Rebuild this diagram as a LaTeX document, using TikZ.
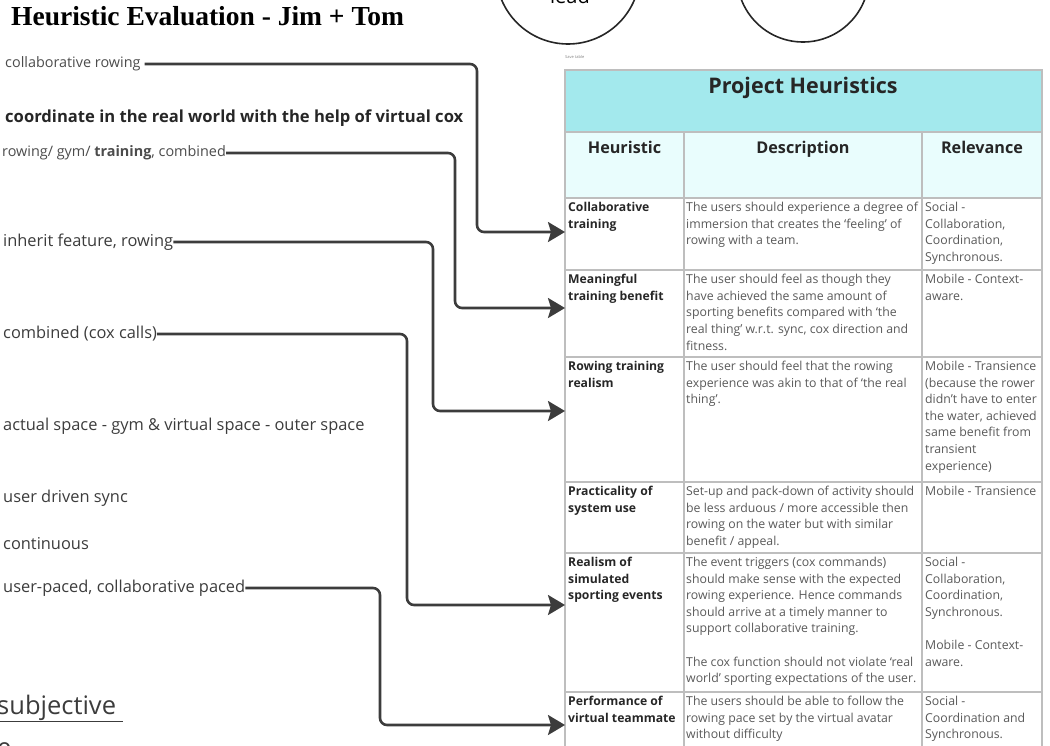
\documentclass[tikz,border=0pt]{standalone}
\usepackage{fontspec}
\setmainfont{Open Sans}
\newfontfamily\titlefont{Liberation Serif}
\usetikzlibrary{arrows.meta}
\definecolor{bandcyan}{HTML}{A3E9ED}
\definecolor{headcyan}{HTML}{E9FDFD}
\definecolor{gridgray}{HTML}{BEBEBE}
\definecolor{inkgray}{HTML}{3C3C3C}
\tikzset{
  link/.style={draw=inkgray, line width=2.6pt, rounded corners=7pt, -{Stealth[length=17pt,width=20pt,inset=3pt]}},
  annot/.style={anchor=west, inner sep=0pt, text=inkgray, font=\fontsize{16.4}{19}\selectfont},
  smallannot/.style={annot, text=black!70, font=\fontsize{14.4}{17}\selectfont},
  desccell/.style={anchor=north west, inner sep=0pt, align=left, text=black!65, font=\fontsize{12.3}{16.6}\selectfont},
  heucell/.style={desccell, text=black!85, font=\bfseries\fontsize{12.2}{16.6}\selectfont},
  headcell/.style={anchor=base, inner sep=0pt, text=black!85, font=\bfseries\fontsize{16.2}{19}\selectfont},
  tablegrid/.style={draw=gridgray, line width=1.5pt},
}
\begin{document}
\begin{tikzpicture}[x=1pt,y=-1pt]
\useasboundingbox (0,0) rectangle (1050,745);
\clip (0,0) rectangle (1050,745);
% title and circles
\node[anchor=west, inner sep=0pt, font=\titlefont\bfseries\fontsize{27.5}{31}\selectfont] (title) at (11,16) {Heuristic Evaluation - Jim + Tom};
\draw[line width=1.6pt, black!85] (568,-28) circle (72pt);
\draw[line width=1.6pt, black!85] (803,-24) circle (66pt);
\node[anchor=base, inner sep=0pt, font=\fontsize{20}{24}\selectfont] (lead) at (570,3) {lead};
\node[anchor=west, inner sep=0pt, text=black!50, font=\fontsize{4}{5}\selectfont] (save) at (565,57) {Save table};
% table fills
\fill[bandcyan] (565,70) rectangle (1042,132);
\fill[headcyan] (565,132) rectangle (1042,198);
% table grid
\draw[tablegrid] (565,760) -- (565,70) -- (1042,70) -- (1042,760);
\foreach \y in {132,198,270,357,482,553,692}
  \draw[tablegrid] (565,\y) -- (1042,\y);
\foreach \x in {684,922}
  \draw[tablegrid] (\x,132) -- (\x,760);
% table texts
\node[headcell, font=\bfseries\fontsize{21.5}{25}\selectfont] (band) at (803,93) {Project Heuristics};
\node[headcell] (hheu) at (624.5,153) {Heuristic};
\node[headcell] (hdesc) at (803,153) {Description};
\node[headcell] (hrel) at (982,153) {Relevance};
\node[heucell] (heu1) at (568,202) {Collaborative\\training};
\node[desccell] (desc1) at (686,202) {The users should experience a degree of\\immersion that creates the `feeling' of\\rowing with a team.};
\node[desccell] (rel1) at (925,202) {Social -\\Collaboration,\\Coordination,\\Synchronous.};
\node[heucell] (heu2) at (568,274) {Meaningful\\training benefit};
\node[desccell] (desc2) at (686,274) {The user should feel as though they\\have achieved the same amount of\\sporting benefits compared with `the\\real thing' w.r.t. sync, cox direction and\\fitness.};
\node[desccell] (rel2) at (925,274) {Mobile - Context-\\aware.};
\node[heucell] (heu3) at (568,361) {Rowing training\\realism};
\node[desccell] (desc3) at (686,361) {The user should feel that the rowing\\experience was akin to that of `the real\\thing'.};
\node[desccell] (rel3) at (925,361) {Mobile - Transience\\(because the rower\\didn't have to enter\\the water, achieved\\same benefit from\\transient\\experience)};
\node[heucell] (heu4) at (568,486) {Practicality of\\system use};
\node[desccell] (desc4) at (686,486) {Set-up and pack-down of activity should\\be less arduous / more accessible then\\rowing on the water but with similar\\benefit / appeal.};
\node[desccell] (rel4) at (925,486) {Mobile - Transience};
\node[heucell] (heu5) at (568,557) {Realism of\\simulated\\sporting events};
\node[desccell] (desc5) at (686,557) {The event triggers (cox commands)\\should make sense with the expected\\rowing experience. Hence commands\\should arrive at a timely manner to\\support collaborative training.\\[16.6pt]The cox function should not violate `real\\world' sporting expectations of the user.};
\node[desccell] (rel5) at (925,557) {Social -\\Collaboration,\\Coordination,\\Synchronous.\\[16.6pt]Mobile - Context-\\aware.};
\node[heucell] (heu6) at (568,696) {Performance of\\virtual teammate};
\node[desccell] (desc6) at (686,696) {The users should be able to follow the\\rowing pace set by the virtual avatar\\without difficulty};
\node[desccell] (rel6) at (925,696) {Social -\\Coordination and\\Synchronous.};
% notes on the left
\node[smallannot] (collab) at (5,64) {collaborative rowing};
\node[annot, font=\bfseries\fontsize{16.6}{19}\selectfont, text=black!85] (coord) at (5,118) {coordinate in the real world with the help of virtual cox};
\node[smallannot] (rowgym) at (2,153) {rowing/ gym/ \textbf{training}, combined};
\node[annot] (inherit) at (3,242) {inherit feature, rowing};
\node[annot] (coxcalls) at (3,334) {combined (cox calls)};
\node[annot] (space) at (3,426) {actual space - gym \& virtual space - outer space};
\node[annot] (sync) at (3,498) {user driven sync};
\node[annot] (cont) at (3,544) {continuous};
\node[annot] (paced) at (3,588) {user-paced, collaborative paced};
\node[anchor=base west, inner sep=0pt, text=inkgray, font=\fontsize{25.5}{30}\selectfont] (subj) at (-3,714) {\underline{subjective\ }};
\node[anchor=base west, inner sep=0pt, text=inkgray, font=\fontsize{25.5}{30}\selectfont] (tail) at (-3,756) {e};
% arrow ends
\coordinate (t1) at (565,232);
\coordinate (t2) at (565,308);
\coordinate (t3) at (565,411);
\coordinate (t5) at (565,605);
\coordinate (t6) at (565,725);
% connectors
\draw[link] ([xshift=4pt]collab.east) -| (477,232) -- (t1);
\draw[link] (rowgym.east) -| (455,308) -- (t2);
\draw[link] (inherit.east) -| (433,411) -- (t3);
\draw[link] (coxcalls.east) -| (407,605) -- (t5);
\draw[link] (paced.east) -| (380,725) -- (t6);
\end{tikzpicture}
\end{document}
